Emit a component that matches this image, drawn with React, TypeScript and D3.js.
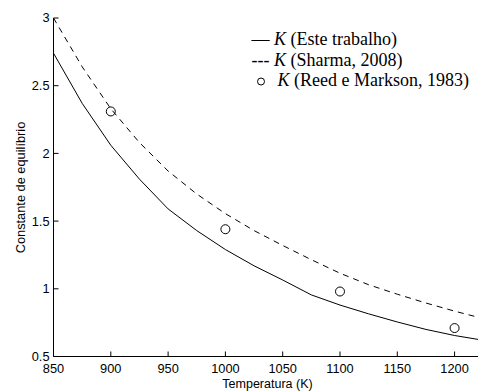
import React from "react";
import * as d3 from "d3";

const temps = [850, 875, 900, 925, 950, 975, 1000, 1025, 1050, 1075, 1100, 1125, 1150, 1175, 1200, 1225];
const kEsteTrabalho = [2.74, 2.37, 2.06, 1.81, 1.59, 1.43, 1.29, 1.17, 1.065, 0.955, 0.88, 0.815, 0.755, 0.7, 0.655, 0.62];
const kSharma = [3.0, 2.64, 2.33, 2.08, 1.87, 1.7, 1.555, 1.43, 1.32, 1.215, 1.115, 1.03, 0.96, 0.895, 0.835, 0.78];
const reedTemps = [900, 1000, 1100, 1200];
const kReed = [2.31, 1.44, 0.98, 0.71];
const xTicks = [850, 900, 950, 1000, 1050, 1100, 1150, 1200];
const yTicks = [0.5, 1, 1.5, 2, 2.5, 3];
const legendLabels = ["(Este trabalho)", "(Sharma, 2008)", "(Reed e Markson, 1983)"];

const W = 478;
const H = 391;

export default function App() {
  const x = d3.scaleLinear().domain([850, 1220]).range([53.5, 477.5]);
  const y = d3.scaleLinear().domain([0.5, 3]).range([356.5, 18]);
  const line = d3
    .line<number>()
    .x((_, i) => x(temps[i]))
    .y((d) => y(d));
  const sans = "'Liberation Sans', Arial, Helvetica, sans-serif";
  const serif = "'Liberation Serif', 'Times New Roman', serif";
  const x0 = x.range()[0];
  const y0 = y.range()[0];
  const tickLen = 5;
  return (
    <svg width={W} height={H} style={{ position: "absolute", left: 0, top: 0, background: "#fff" }}>
      <defs>
        <clipPath id="plot">
          <rect x={x0} y={0} width={W - x0} height={y0} />
        </clipPath>
      </defs>
      <g clipPath="url(#plot)">
        <path d={line(kEsteTrabalho) || ""} fill="none" stroke="#000" strokeWidth={1} />
        <path d={line(kSharma) || ""} fill="none" stroke="#000" strokeWidth={1} strokeDasharray="6,5" />
        {reedTemps.map((t, i) => (
          <circle key={t} cx={x(t)} cy={y(kReed[i])} r={4.5} fill="none" stroke="#000" strokeWidth={1} />
        ))}
      </g>
      {/* axes */}
      <line x1={x0} y1={y(3)} x2={x0} y2={y0} stroke="#000" strokeWidth={1} />
      <line x1={x0} y1={y0} x2={W} y2={y0} stroke="#000" strokeWidth={1} />
      {xTicks.map((t) => (
        <g key={t}>
          <line x1={x(t)} x2={x(t)} y1={y0} y2={y0 - tickLen} stroke="#000" strokeWidth={1} />
          <text x={x(t)} y={373} textAnchor="middle" fontFamily={sans} fontSize={12.8} fill="#000">
            {t}
          </text>
        </g>
      ))}
      {yTicks.map((t) => (
        <g key={t}>
          <line x1={x0} x2={x0 + tickLen} y1={y(t)} y2={y(t)} stroke="#000" strokeWidth={1} />
          <text x={49.5} y={y(t)} dy="0.35em" textAnchor="end" fontFamily={sans} fontSize={12.8} fill="#000">
            {t}
          </text>
        </g>
      ))}
      <text x={267.5} y={388} textAnchor="middle" fontFamily={sans} fontSize={12.5} fill="#000">
        Temperatura (K)
      </text>
      <text
        transform={`translate(24.5,187.5) rotate(-90)`}
        textAnchor="middle"
        fontFamily={sans}
        fontSize={12.8}
        fill="#000"
      >
        Constante de equilíbrio
      </text>
      {/* legend */}
      <text x={251.5} y={45} fontFamily={serif} fontSize={18} fill="#000">
        {"— "}
        <tspan fontStyle="italic">K</tspan>
        {" " + legendLabels[0]}
      </text>
      <text x={251.5} y={65.5} fontFamily={serif} fontSize={18} fill="#000">
        {"--- "}
        <tspan fontStyle="italic">K</tspan>
        {" " + legendLabels[1]}
      </text>
      <circle cx={261} cy={81.5} r={3.5} fill="none" stroke="#000" strokeWidth={1} />
      <text x={277.5} y={86} fontFamily={serif} fontSize={18} fill="#000">
        <tspan fontStyle="italic">K</tspan>
        {" " + legendLabels[2]}
      </text>
    </svg>
  );
}
